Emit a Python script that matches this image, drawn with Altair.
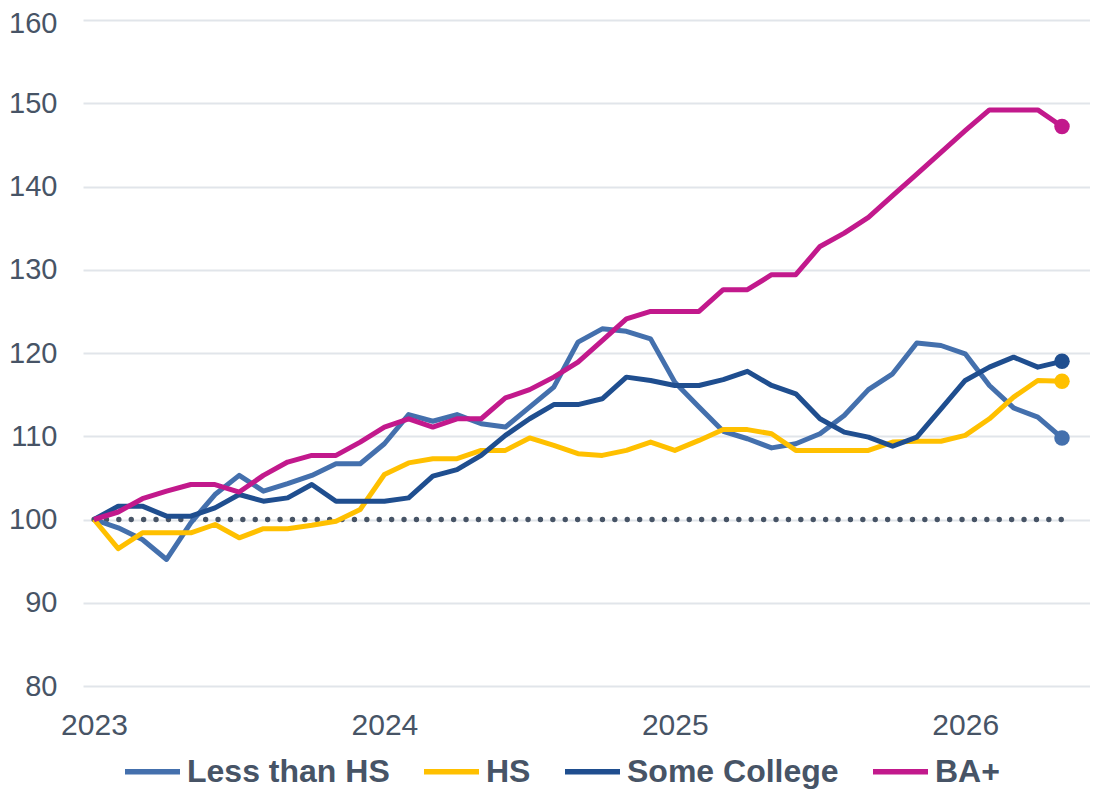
import altair as alt
import pandas as pd

# Monthly index, Jan 2023 = 0 ... May 2026 = 40
months = list(range(41))
year_ticks = [0, 12, 24, 36]

less_than_hs = [100.0, 99.0, 97.6, 95.2, 99.6, 103.0, 105.3, 103.4, 104.3, 105.3,
                106.7, 106.7, 109.1, 112.6, 111.8, 112.6, 111.5, 111.1, 113.5, 115.9,
                121.3, 122.9, 122.6, 121.7, 116.5, 113.5, 110.6, 109.7, 108.6, 109.1,
                110.3, 112.5, 115.6, 117.5, 121.2, 120.9, 119.9, 116.1, 113.4, 112.3,
                109.8]
hs = [100.0, 96.5, 98.4, 98.4, 98.4, 99.4, 97.8, 98.9, 98.9, 99.3,
      99.8, 101.2, 105.4, 106.8, 107.3, 107.3, 108.3, 108.3, 109.8, 108.9,
      107.9, 107.7, 108.3, 109.3, 108.3, 109.5, 110.8, 110.8, 110.3, 108.3,
      108.3, 108.3, 108.3, 109.3, 109.4, 109.4, 110.1, 112.1, 114.7, 116.7,
      116.6]
some_college = [100.0, 101.6, 101.6, 100.4, 100.4, 101.4, 103.0, 102.2, 102.6, 104.2,
                102.2, 102.2, 102.2, 102.6, 105.2, 106.0, 107.7, 110.1, 112.1, 113.8,
                113.8, 114.5, 117.1, 116.7, 116.1, 116.1, 116.8, 117.8, 116.1, 115.1,
                112.1, 110.5, 109.9, 108.8, 109.9, 113.3, 116.7, 118.3, 119.5, 118.3,
                119.0]
ba_plus = [100.0, 100.9, 102.5, 103.4, 104.2, 104.2, 103.3, 105.3, 106.9, 107.7,
           107.7, 109.3, 111.1, 112.1, 111.1, 112.1, 112.1, 114.6, 115.6, 117.1,
           118.9, 121.5, 124.1, 125.0, 125.0, 125.0, 127.6, 127.6, 129.4, 129.4,
           132.8, 134.4, 136.3, 138.9, 141.5, 144.1, 146.7, 149.2, 149.2, 149.2,
           147.2]

series_names = ["Less than HS", "HS", "Some College", "BA+"]
series_colors = ["#4470AD", "#FFC000", "#1F4E8F", "#C2198C"]
series_values = [less_than_hs, hs, some_college, ba_plus]

rows = []
for name, vals in zip(series_names, series_values):
    for m, v in zip(months, vals):
        rows.append({"month": m, "value": v, "series": name})
df = pd.DataFrame(rows)
last_df = df[df["month"] == months[-1]]
base_df = pd.DataFrame({"month": [months[0]], "month2": [months[-1]], "value": [100]})

FONT = "Liberation Sans, Arial, sans-serif"
TEXT_COLOR = "#475466"

x_scale = alt.Scale(domain=[-0.4545, 41.157], nice=False, zero=False)
y_scale = alt.Scale(domain=[80, 160], nice=False, zero=False)
color_scale = alt.Scale(domain=series_names, range=series_colors)

x_axis = alt.Axis(values=year_ticks, labelExpr="2023 + datum.value / 12",
                  grid=False, domain=False, ticks=False, title=None,
                  labelFontSize=30, labelFont=FONT, labelColor=TEXT_COLOR,
                  labelPadding=24, labelFlush=False)
y_axis = alt.Axis(values=[80, 90, 100, 110, 120, 130, 140, 150, 160],
                  grid=True, gridColor="#E1E5EA", gridWidth=2,
                  domain=False, ticks=False, title=None,
                  labelFontSize=29, labelFont=FONT, labelColor=TEXT_COLOR,
                  labelPadding=26,
                  labelOffset={"condition": {"test": "datum.value == 160", "value": 3},
                               "value": 0})

X = alt.X("month:Q", scale=x_scale, axis=x_axis)
Y = alt.Y("value:Q", scale=y_scale, axis=y_axis)

baseline = alt.Chart(base_df).mark_rule(
    color="#475466", strokeWidth=5.3, strokeDash=[0.1, 12.3], strokeCap="round"
).encode(x=X, x2="month2:Q", y=Y)

lines = alt.Chart(df).mark_line(strokeWidth=5, strokeJoin="round").encode(
    x=X,
    y=Y,
    color=alt.Color("series:N", scale=color_scale, sort=series_names,
                    legend=alt.Legend(title=None, orient="none", direction="horizontal",
                                      legendX=39, legendY=721,
                                      symbolType="stroke", symbolSize=3025,
                                      symbolStrokeWidth=5.5, labelOffset=4,
                                      columnPadding=23, padding=0,
                                      labelFontSize=32, labelFont=FONT,
                                      labelFontWeight="bold", labelColor=TEXT_COLOR,
                                      labelLimit=400)),
    order=alt.Order("month:Q"),
)

dots = alt.Chart(last_df).mark_circle(size=240, opacity=1).encode(
    x=X,
    y=Y,
    color=alt.Color("series:N", scale=color_scale, legend=None),
)

chart = alt.layer(baseline, lines, dots).properties(
    width=1007, height=666,
    background="white",
    autosize=alt.AutoSizeParams(type="none"),
    padding={"left": 75, "top": 12, "right": 0, "bottom": 104},
).configure_view(stroke=None)

chart.save("out.html", embed_options={"renderer": "svg", "actions": False})
